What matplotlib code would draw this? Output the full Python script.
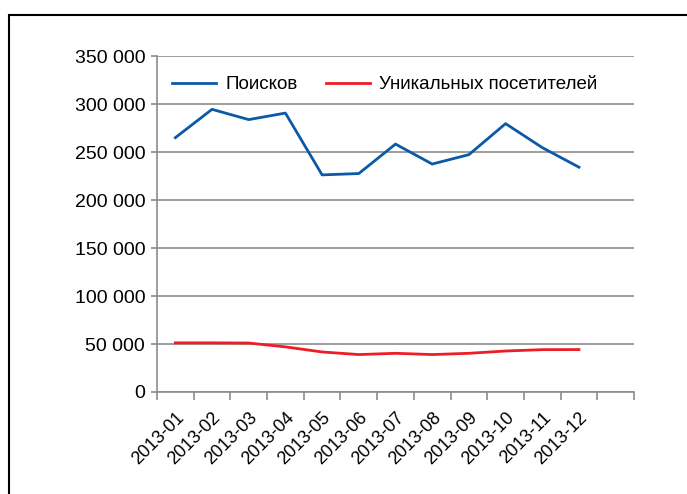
import numpy as np
import matplotlib.pyplot as plt
from matplotlib.patches import Rectangle
from matplotlib.ticker import FuncFormatter, FixedLocator

plt.rcParams['font.family'] = ['Liberation Sans', 'DejaVu Sans']

# Data
months = ['2013-01', '2013-02', '2013-03', '2013-04', '2013-05', '2013-06',
          '2013-07', '2013-08', '2013-09', '2013-10', '2013-11', '2013-12']
searches = [265000, 294500, 283800, 290600, 226200, 227600,
            258300, 237500, 247300, 279600, 254600, 234200]
visitors = [51200, 51200, 51000, 47000, 41700, 39000,
            40300, 39000, 40300, 42700, 44100, 44200]

fig = plt.figure(figsize=(6.87, 4.94), dpi=100)
ax = fig.add_axes([0.2285, 0.2065, 0.6944, 0.68])

x = np.arange(len(months))
ax.plot(x, searches, color='#0a5aa8', lw=2.0, label='Поисков')
ax.plot(x, visitors, color='#ee1c25', lw=2.0, label='Уникальных посетителей')

ax.set_xlim(-0.5, len(months) + 0.5)
ax.set_ylim(0, 350000)
ax.set_yticks(np.arange(0, 350001, 50000))
ax.yaxis.set_major_formatter(FuncFormatter(lambda v, p: f'{int(v):,}'.replace(',', ' ')))
ax.yaxis.grid(True, color='#8c8c8c', lw=1.2)
ax.set_axisbelow(True)

# category labels at centres, tick marks at boundaries
ax.set_xticks(x)
ax.set_xticklabels(months, rotation=45, ha='right', va='top', rotation_mode='anchor')
ax.xaxis.set_minor_locator(FixedLocator(np.arange(-0.5, len(months) + 1, 1)))
ax.tick_params(axis='x', which='major', length=0, pad=12, labelsize=13)
ax.tick_params(axis='x', which='minor', length=6, width=1.2, color='#8c8c8c', direction='out')
ax.tick_params(axis='y', length=4.5, width=1.2, color='#8c8c8c', labelsize=14, pad=4)

for s in ['top', 'right']:
    ax.spines[s].set_visible(False)
for s in ['left', 'bottom']:
    ax.spines[s].set_color('#8c8c8c')
    ax.spines[s].set_linewidth(1.2)

ax.legend(loc='upper left', bbox_to_anchor=(0.0, 0.985), ncol=2, frameon=False,
          fontsize=13.5, handlelength=2.35, handletextpad=0.5, columnspacing=1.5,
          borderpad=0.3)

# outer frame, right and bottom edges run off the picture
fig.patches.append(Rectangle((9 / 687, -0.1), 1.0, 1 - 15 / 494 + 0.1,
                             transform=fig.transFigure, fill=False,
                             edgecolor='black', lw=1.5, clip_on=False))

fig.savefig('out.png', dpi=100)
